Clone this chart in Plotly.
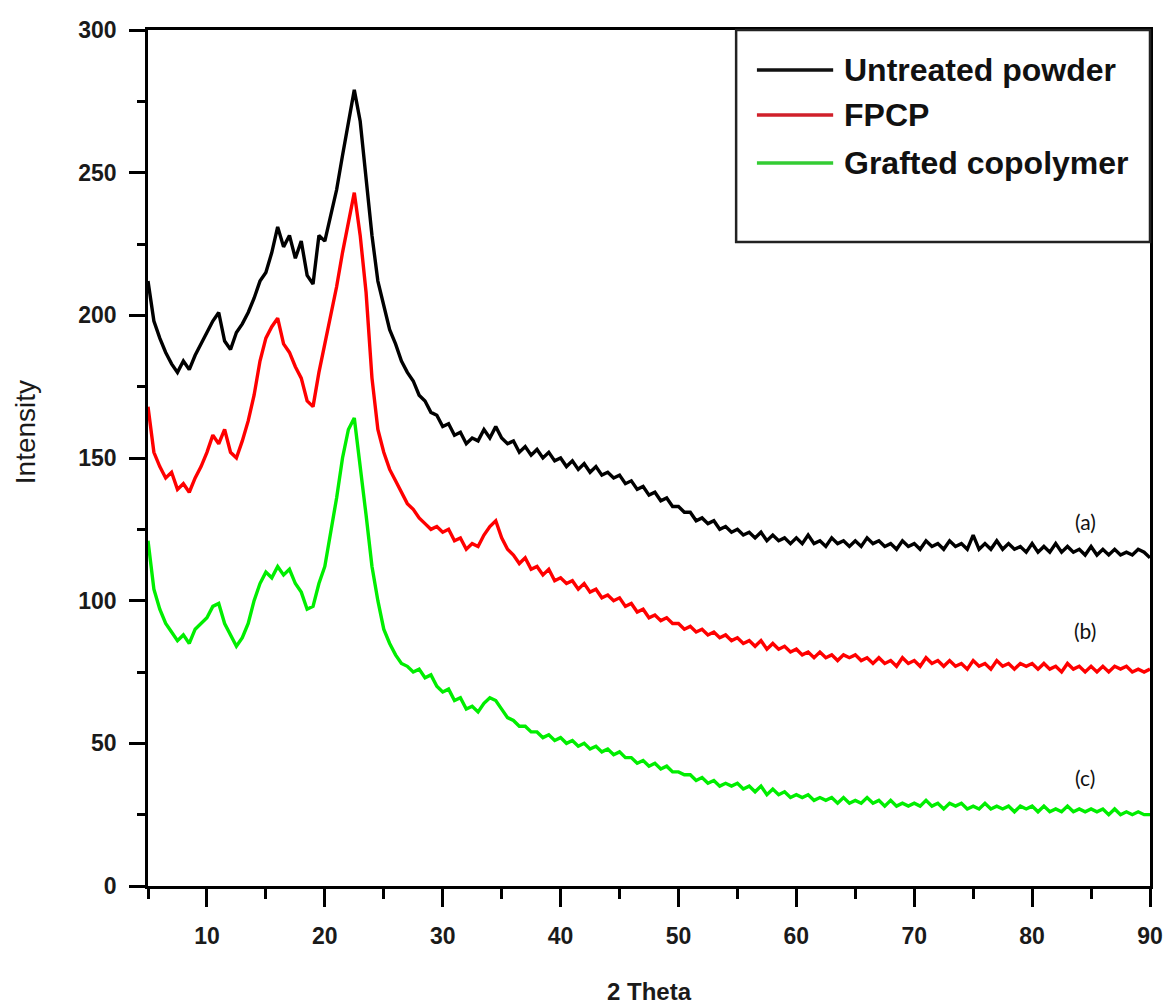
import plotly.graph_objects as go

# 2-theta grid: 5.0 .. 90.0 in 0.5 degree steps (171 points)
two_theta = [5 + 0.5 * i for i in range(171)]

untreated_powder = [
    212, 198, 192, 187, 183, 180, 184, 181, 186, 190,
    194, 198, 201, 191, 188, 194, 197, 201, 206, 212,
    215, 222, 231, 224, 228, 220, 226, 214, 211, 228,
    226, 235, 244, 256, 268, 279, 268, 248, 228, 212,
    203, 195, 190, 184, 180, 177, 172, 170, 166, 165,
    161, 162, 158, 159, 155, 157, 156, 160, 157, 161,
    157, 155, 156, 152, 154, 151, 153, 150, 152, 149,
    150, 147, 149, 146, 148, 145, 147, 144, 145, 143,
    144, 141, 142, 139, 140, 137, 138, 135, 136, 133,
    133, 131, 131, 128, 129, 127, 128, 125, 126, 124,
    125, 123, 124, 122, 124, 121, 123, 121, 122, 120,
    122, 120, 123, 120, 121, 119, 122, 120, 121, 119,
    121, 119, 122, 120, 121, 119, 120, 118, 121, 119,
    120, 118, 121, 119, 120, 118, 121, 119, 120, 118,
    123, 118, 120, 118, 121, 118, 120, 118, 119, 117,
    120, 117, 119, 117, 120, 117, 119, 117, 118, 116,
    119, 116, 118, 116, 118, 116, 117, 116, 118, 117,
    115,
]

fpcp = [
    168, 152, 147, 143, 145, 139, 141, 138, 143, 147,
    152, 158, 155, 160, 152, 150, 156, 163, 172, 184,
    192, 196, 199, 190, 187, 182, 178, 170, 168, 180,
    190, 200, 210, 222, 233, 243, 228, 208, 178, 160,
    152, 146, 142, 138, 134, 132, 129, 127, 125, 126,
    124, 125, 121, 122, 118, 120, 119, 123, 126, 128,
    122, 118, 116, 113, 115, 111, 112, 109, 111, 107,
    108, 106, 107, 104, 106, 103, 104, 101, 102, 100,
    101, 98, 99, 96, 97, 94, 95, 93, 94, 92,
    92, 90, 91, 89, 90, 88, 89, 87, 88, 86,
    87, 85, 86, 84, 86, 83, 85, 83, 84, 82,
    83, 81, 82, 80, 82, 80, 81, 79, 81, 80,
    81, 79, 80, 78, 80, 78, 79, 77, 80, 78,
    79, 77, 80, 78, 79, 77, 79, 77, 78, 76,
    79, 77, 78, 76, 79, 77, 78, 76, 78, 77,
    78, 76, 78, 76, 77, 75, 78, 76, 77, 75,
    77, 75, 77, 75, 77, 76, 77, 75, 76, 75,
    76,
]

grafted_copolymer = [
    121, 104, 97, 92, 89, 86, 88, 85, 90, 92,
    94, 98, 99, 92, 88, 84, 87, 92, 100, 106,
    110, 108, 112, 109, 111, 106, 103, 97, 98, 106,
    112, 124, 136, 150, 160, 164, 148, 130, 112, 100,
    90, 85, 81, 78, 77, 75, 76, 73, 74, 70,
    68, 69, 65, 66, 62, 63, 61, 64, 66, 65,
    62, 59, 58, 56, 56, 54, 54, 52, 53, 51,
    52, 50, 51, 49, 50, 48, 49, 47, 48, 46,
    47, 45, 45, 43, 44, 42, 43, 41, 42, 40,
    40, 39, 39, 37, 38, 36, 37, 35, 36, 35,
    36, 34, 35, 33, 35, 32, 34, 32, 33, 31,
    32, 31, 32, 30, 31, 30, 31, 29, 31, 29,
    30, 29, 31, 29, 30, 28, 30, 28, 29, 28,
    29, 28, 30, 28, 29, 27, 29, 28, 29, 27,
    28, 27, 29, 27, 28, 27, 28, 26, 28, 27,
    28, 26, 28, 26, 27, 26, 28, 26, 27, 26,
    27, 26, 27, 25, 27, 25, 26, 25, 26, 25,
    25,
]

series_names = ["Untreated powder", "FPCP", "Grafted copolymer"]
series_colors = ["#000000", "#ff0000", "#00ee00"]
curve_labels = ["(a)", "(b)", "(c)"]
curve_label_x = [84.5, 84.5, 84.5]
curve_label_y = [127.6, 89.7, 37.9]

fig = go.Figure()
for name, ys, col in zip(series_names, [untreated_powder, fpcp, grafted_copolymer], series_colors):
    fig.add_trace(go.Scatter(x=two_theta, y=ys, mode="lines", name=name,
                             line=dict(color=col, width=3.4), showlegend=False))

tick_font = dict(family="Liberation Sans, Arial", size=23, color="#1a1a1a", weight="bold")

PL, PR, PT, PB = 148, 1160, 30, 886   # plot area in page pixels
W, H = 1175, 1006

fig.update_layout(
    width=W, height=H,
    margin=dict(l=PL, r=W - PR, t=PT, b=H - PB),
    paper_bgcolor="white", plot_bgcolor="white",
    xaxis=dict(range=[5, 90], tick0=0, dtick=10, ticks="outside", ticklen=18, tickwidth=2.5,
               tickcolor="black", showline=True, linecolor="black", linewidth=2.5, mirror=True,
               showgrid=False, zeroline=False, tickfont=tick_font, ticklabelstandoff=10,
               minor=dict(dtick=5, tick0=0, ticks="outside", ticklen=10, tickwidth=2.5,
                          tickcolor="black", showgrid=False)),
    yaxis=dict(range=[0, 300], tick0=0, dtick=50, ticks="outside", ticklen=16, tickwidth=2.5,
               tickcolor="black", showline=True, linecolor="black", linewidth=2.5, mirror=True,
               showgrid=False, zeroline=False, tickfont=tick_font, ticklabelstandoff=8,
               minor=dict(dtick=25, tick0=0, ticks="outside", ticklen=8, tickwidth=2.5,
                          tickcolor="black", showgrid=False)),
)

def px_to_paper_x(px):
    return (px - PL) / (PR - PL)

def px_to_paper_y(py):
    return (PB - py) / (PB - PT)

# Legend drawn as a boxed key
fig.add_shape(type="rect", xref="paper", yref="paper",
              x0=px_to_paper_x(742), x1=1.0, y0=px_to_paper_y(242), y1=1.0,
              line=dict(color="#222222", width=2.5), fillcolor="rgba(0,0,0,0)")
legend_rows_py = [70, 115, 163]
legend_line_colors = ["#111111", "#d0202a", "#33cc33"]
for name, col, py in zip(series_names, legend_line_colors, legend_rows_py):
    yp = px_to_paper_y(py)
    fig.add_shape(type="line", xref="paper", yref="paper",
                  x0=px_to_paper_x(763), x1=px_to_paper_x(840), y0=yp, y1=yp,
                  line=dict(color=col, width=3.5))
    fig.add_annotation(xref="paper", yref="paper", x=px_to_paper_x(849), y=yp,
                       text=name, showarrow=False, xanchor="left", yanchor="middle",
                       font=dict(family="Liberation Sans, Arial", size=32, color="#111111",
                                 weight="bold"))

for lab, lx, ly in zip(curve_labels, curve_label_x, curve_label_y):
    fig.add_annotation(x=lx, y=ly, text=lab, showarrow=False, xanchor="center", yanchor="middle",
                       font=dict(family="Lato, Open Sans", size=21, color="#111111"))

# Axis titles
fig.add_annotation(xref="paper", yref="paper", x=px_to_paper_x(654), y=px_to_paper_y(991),
                   text="2 Theta", showarrow=False, xanchor="center", yanchor="middle",
                   font=dict(family="Liberation Sans, Arial", size=24, color="#1a1a1a", weight="bold"))
fig.add_annotation(xref="paper", yref="paper", x=px_to_paper_x(24), y=px_to_paper_y(432),
                   text="Intensity", textangle=-90, showarrow=False, xanchor="center",
                   yanchor="middle",
                   font=dict(family="Liberation Sans, Arial", size=28, color="#1a1a1a"))

fig.write_html("out.html", config={"displayModeBar": False},
               post_script="document.body.style.margin='0';document.body.style.overflow='hidden';")
